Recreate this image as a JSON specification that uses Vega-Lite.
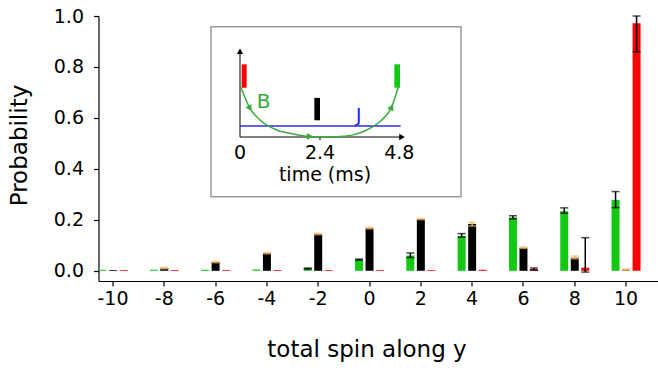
{
  "$schema": "https://vega.github.io/schema/vega-lite/v6.json",
  "width": 559.5,
  "height": 265,
  "autosize": {"type": "none"},
  "padding": {"left": 98.5, "top": 16, "right": 0, "bottom": 87},
  "background": "white",
  "config": {
    "font": "DejaVu Sans",
    "view": {"stroke": null},
    "axis": {"grid": false, "domainColor": "black", "tickColor": "black", "labelColor": "black", "titleColor": "black", "labelFontSize": 19, "titleFontSize": 23, "titleFontWeight": "normal", "tickSize": 5, "domainWidth": 1.2, "tickWidth": 1.2, "labelFont": "DejaVu Sans", "titleFont": "DejaVu Sans"},
    "axisX": {"labelAngle": 0, "labelPadding": 3},
    "axisY": {"labelPadding": 10},
    "text": {"font": "DejaVu Sans"}
  },
  "datasets": {
    "probs": [
      {"spin": -10, "series": "4.8 ms", "p": 0.004},
      {"spin": -10, "series": "2.4 ms", "p": 0.003},
      {"spin": -10, "series": "0 ms", "p": 0.003},
      {"spin": -8, "series": "4.8 ms", "p": 0.004},
      {"spin": -8, "series": "2.4 ms", "p": 0.010, "lo": 0.008, "hi": 0.013},
      {"spin": -8, "series": "0 ms", "p": 0.003},
      {"spin": -6, "series": "4.8 ms", "p": 0.004},
      {"spin": -6, "series": "2.4 ms", "p": 0.034, "lo": 0.032, "hi": 0.036},
      {"spin": -6, "series": "0 ms", "p": 0.003},
      {"spin": -4, "series": "4.8 ms", "p": 0.005},
      {"spin": -4, "series": "2.4 ms", "p": 0.069, "lo": 0.067, "hi": 0.072},
      {"spin": -4, "series": "0 ms", "p": 0.003},
      {"spin": -2, "series": "4.8 ms", "p": 0.009, "lo": 0.007, "hi": 0.011},
      {"spin": -2, "series": "2.4 ms", "p": 0.144, "lo": 0.142, "hi": 0.147},
      {"spin": -2, "series": "0 ms", "p": 0.003},
      {"spin": 0, "series": "4.8 ms", "p": 0.044, "lo": 0.042, "hi": 0.046},
      {"spin": 0, "series": "2.4 ms", "p": 0.167, "lo": 0.165, "hi": 0.171},
      {"spin": 0, "series": "0 ms", "p": 0.003},
      {"spin": 2, "series": "4.8 ms", "p": 0.060, "lo": 0.052, "hi": 0.070},
      {"spin": 2, "series": "2.4 ms", "p": 0.203, "lo": 0.201, "hi": 0.205},
      {"spin": 2, "series": "0 ms", "p": 0.003},
      {"spin": 4, "series": "4.8 ms", "p": 0.137, "lo": 0.132, "hi": 0.146},
      {"spin": 4, "series": "2.4 ms", "p": 0.184, "lo": 0.176, "hi": 0.190},
      {"spin": 4, "series": "0 ms", "p": 0.004},
      {"spin": 6, "series": "4.8 ms", "p": 0.209, "lo": 0.204, "hi": 0.216},
      {"spin": 6, "series": "2.4 ms", "p": 0.090, "lo": 0.088, "hi": 0.093},
      {"spin": 6, "series": "0 ms", "p": 0.007, "lo": 0.003, "hi": 0.011},
      {"spin": 8, "series": "4.8 ms", "p": 0.234, "lo": 0.226, "hi": 0.247},
      {"spin": 8, "series": "2.4 ms", "p": 0.051, "lo": 0.047, "hi": 0.058},
      {"spin": 8, "series": "0 ms", "p": 0.012, "lo": -0.005, "hi": 0.13},
      {"spin": 10, "series": "4.8 ms", "p": 0.278, "lo": 0.248, "hi": 0.311},
      {"spin": 10, "series": "2.4 ms", "p": 0.004, "lo": 0.002, "hi": 0.007},
      {"spin": 10, "series": "0 ms", "p": 0.972, "lo": 0.86, "hi": 1.0}
    ],
    "curve": [
      {"t": 0, "v": 0.584}, {"t": 0.3, "v": 0.322}, {"t": 0.6, "v": 0.191}, {"t": 1.1, "v": 0.079},
      {"t": 1.6, "v": 0.034}, {"t": 2.1, "v": 0.006}, {"t": 2.55, "v": 0.0}, {"t": 3.0, "v": 0.006},
      {"t": 3.45, "v": 0.03}, {"t": 3.8, "v": 0.079}, {"t": 4.25, "v": 0.191}, {"t": 4.55, "v": 0.337},
      {"t": 4.75, "v": 0.565}
    ],
    "pulses": [
      {"series": "0 ms", "t0": 0.05, "t1": 0.2, "v0": 0.554, "v1": 0.817},
      {"series": "2.4 ms", "t0": 2.23, "t1": 2.4, "v0": 0.188, "v1": 0.44},
      {"series": "4.8 ms", "t0": 4.63, "t1": 4.8, "v0": 0.554, "v1": 0.817}
    ]
  },
  "layer": [
    {
      "data": {"name": "probs"},
      "encoding": {
        "x": {"field": "spin", "type": "ordinal", "scale": {"type": "band", "paddingInner": 0.435, "paddingOuter": 0.17, "align": 0},
          "axis": {"title": "total spin along y", "titleX": 268, "titleY": 75, "titleBaseline": "alphabetic"}},
        "xOffset": {"field": "series", "type": "nominal", "scale": {"domain": ["4.8 ms", "2.4 ms", "0 ms"], "paddingInner": 0.24, "paddingOuter": 0}}
      },
      "layer": [
        {
          "mark": {"type": "bar"},
          "encoding": {
            "y": {"field": "p", "type": "quantitative", "scale": {"domain": [-0.04, 1], "nice": false, "zero": false},
              "axis": {"title": "Probability", "values": [0, 0.2, 0.4, 0.6, 0.8, 1], "format": ".1f", "titleX": -72.5, "titleY": 129, "titleBaseline": "alphabetic", "titleAlign": "center"}},
            "color": {"field": "series", "type": "nominal", "scale": {"domain": ["0 ms", "2.4 ms", "4.8 ms"], "range": ["#ff0000", "#000000", "#12c812"]}, "legend": null}
          }
        },
        {
          "transform": [{"filter": "isValid(datum.lo) && datum.series == '2.4 ms'"}],
          "mark": {"type": "rule", "color": "#f2b461", "strokeWidth": 1.5},
          "encoding": {
            "y": {"field": "lo", "type": "quantitative", "scale": {"domain": [-0.04, 1], "nice": false, "zero": false},
              "axis": {"title": "Probability", "values": [0, 0.2, 0.4, 0.6, 0.8, 1], "format": ".1f", "titleX": -72.5, "titleY": 129, "titleBaseline": "alphabetic", "titleAlign": "center"}},
            "y2": {"field": "hi"}
          }
        },
        {
          "transform": [{"filter": "isValid(datum.lo) && datum.series == '2.4 ms'"}],
          "mark": {"type": "tick", "color": "#f2b461", "thickness": 1.5, "size": 8, "orient": "horizontal"},
          "encoding": {"y": {"field": "lo", "type": "quantitative", "scale": {"domain": [-0.04, 1], "nice": false, "zero": false},
              "axis": {"title": "Probability", "values": [0, 0.2, 0.4, 0.6, 0.8, 1], "format": ".1f", "titleX": -72.5, "titleY": 129, "titleBaseline": "alphabetic", "titleAlign": "center"}}}
        },
        {
          "transform": [{"filter": "isValid(datum.lo) && datum.series == '2.4 ms'"}],
          "mark": {"type": "tick", "color": "#f2b461", "thickness": 1.5, "size": 8, "orient": "horizontal"},
          "encoding": {"y": {"field": "hi", "type": "quantitative", "scale": {"domain": [-0.04, 1], "nice": false, "zero": false},
              "axis": {"title": "Probability", "values": [0, 0.2, 0.4, 0.6, 0.8, 1], "format": ".1f", "titleX": -72.5, "titleY": 129, "titleBaseline": "alphabetic", "titleAlign": "center"}}}
        },
        {
          "transform": [{"filter": "isValid(datum.lo) && datum.series != '2.4 ms'"}],
          "mark": {"type": "rule", "color": "black", "strokeWidth": 1.5},
          "encoding": {
            "y": {"field": "lo", "type": "quantitative", "scale": {"domain": [-0.04, 1], "nice": false, "zero": false},
              "axis": {"title": "Probability", "values": [0, 0.2, 0.4, 0.6, 0.8, 1], "format": ".1f", "titleX": -72.5, "titleY": 129, "titleBaseline": "alphabetic", "titleAlign": "center"}},
            "y2": {"field": "hi"}
          }
        },
        {
          "transform": [{"filter": "isValid(datum.lo) && datum.series != '2.4 ms'"}],
          "mark": {"type": "tick", "color": "black", "thickness": 1.5, "size": 8, "orient": "horizontal"},
          "encoding": {"y": {"field": "lo", "type": "quantitative", "scale": {"domain": [-0.04, 1], "nice": false, "zero": false},
              "axis": {"title": "Probability", "values": [0, 0.2, 0.4, 0.6, 0.8, 1], "format": ".1f", "titleX": -72.5, "titleY": 129, "titleBaseline": "alphabetic", "titleAlign": "center"}}}
        },
        {
          "transform": [{"filter": "isValid(datum.lo) && datum.series != '2.4 ms'"}],
          "mark": {"type": "tick", "color": "black", "thickness": 1.5, "size": 8, "orient": "horizontal"},
          "encoding": {"y": {"field": "hi", "type": "quantitative", "scale": {"domain": [-0.04, 1], "nice": false, "zero": false},
              "axis": {"title": "Probability", "values": [0, 0.2, 0.4, 0.6, 0.8, 1], "format": ".1f", "titleX": -72.5, "titleY": 129, "titleBaseline": "alphabetic", "titleAlign": "center"}}}
        }
      ]
    },
    {
      "layer": [
        {
          "data": {"values": [{"t0": -0.87, "t1": 6.63, "v0": -0.671, "v1": 1.239}]},
          "mark": {"type": "rect", "fill": "white", "stroke": "#999999", "strokeWidth": 1.5},
          "encoding": {
            "x": {"field": "t0", "type": "quantitative", "scale": {"domain": [-4.245, 12.54], "nice": false, "zero": false}, "axis": null},
            "x2": {"field": "t1"},
            "y": {"field": "v0", "type": "quantitative", "scale": {"domain": [-1.618, 1.36], "nice": false, "zero": false}, "axis": null},
            "y2": {"field": "v1"}
          }
        },
        {
          "data": {"values": [{"t0": 0, "t1": 0, "v0": 0, "v1": 0.96}, {"t0": 0, "t1": 4.84, "v0": 0, "v1": 0}, {"t0": 2.4, "t1": 2.4, "v0": 0, "v1": -0.035}]},
          "mark": {"type": "rule", "color": "black", "strokeWidth": 1},
          "encoding": {
            "x": {"field": "t0", "type": "quantitative", "scale": {"domain": [-4.245, 12.54], "nice": false, "zero": false}, "axis": null},
            "x2": {"field": "t1"},
            "y": {"field": "v0", "type": "quantitative", "scale": {"domain": [-1.618, 1.36], "nice": false, "zero": false}, "axis": null},
            "y2": {"field": "v1"}
          }
        },
        {
          "data": {"values": [{"t": 0, "v": 0.965, "dir": "up"}, {"t": 4.86, "v": 0, "dir": "right"}]},
          "mark": {"type": "point", "filled": true, "color": "black", "opacity": 1, "size": 40},
          "encoding": {
            "x": {"field": "t", "type": "quantitative", "scale": {"domain": [-4.245, 12.54], "nice": false, "zero": false}, "axis": null},
            "y": {"field": "v", "type": "quantitative", "scale": {"domain": [-1.618, 1.36], "nice": false, "zero": false}, "axis": null},
            "shape": {"field": "dir", "type": "nominal", "scale": {"domain": ["up", "right"], "range": ["triangle-up", "triangle-right"]}, "legend": null}
          }
        },
        {
          "data": {"values": [{"t0": 0, "t1": 4.82, "v": 0.124}]},
          "mark": {"type": "rule", "color": "#2a2ae6", "strokeWidth": 1.5},
          "encoding": {
            "x": {"field": "t0", "type": "quantitative", "scale": {"domain": [-4.245, 12.54], "nice": false, "zero": false}, "axis": null},
            "x2": {"field": "t1"},
            "y": {"field": "v", "type": "quantitative", "scale": {"domain": [-1.618, 1.36], "nice": false, "zero": false}, "axis": null}
          }
        },
        {
          "data": {"name": "curve"},
          "mark": {"type": "line", "color": "#3aaa3a", "strokeWidth": 1.5, "interpolate": "monotone"},
          "encoding": {
            "x": {"field": "t", "type": "quantitative", "scale": {"domain": [-4.245, 12.54], "nice": false, "zero": false}, "axis": null},
            "y": {"field": "v", "type": "quantitative", "scale": {"domain": [-1.618, 1.36], "nice": false, "zero": false}, "axis": null}
          }
        },
        {
          "data": {"values": [{"t": 0.3, "v": 0.322}]},
          "mark": {"type": "point", "shape": "triangle-up", "filled": true, "color": "#3aaa3a", "opacity": 1, "size": 50, "angle": 150},
          "encoding": {
            "x": {"field": "t", "type": "quantitative", "scale": {"domain": [-4.245, 12.54], "nice": false, "zero": false}, "axis": null},
            "y": {"field": "v", "type": "quantitative", "scale": {"domain": [-1.618, 1.36], "nice": false, "zero": false}, "axis": null}
          }
        },
        {
          "data": {"values": [{"t": 2.1, "v": 0.006}]},
          "mark": {"type": "point", "shape": "triangle-up", "filled": true, "color": "#3aaa3a", "opacity": 1, "size": 50, "angle": 90},
          "encoding": {
            "x": {"field": "t", "type": "quantitative", "scale": {"domain": [-4.245, 12.54], "nice": false, "zero": false}, "axis": null},
            "y": {"field": "v", "type": "quantitative", "scale": {"domain": [-1.618, 1.36], "nice": false, "zero": false}, "axis": null}
          }
        },
        {
          "data": {"values": [{"t": 4.55, "v": 0.337}]},
          "mark": {"type": "point", "shape": "triangle-up", "filled": true, "color": "#3aaa3a", "opacity": 1, "size": 50, "angle": 27},
          "encoding": {
            "x": {"field": "t", "type": "quantitative", "scale": {"domain": [-4.245, 12.54], "nice": false, "zero": false}, "axis": null},
            "y": {"field": "v", "type": "quantitative", "scale": {"domain": [-1.618, 1.36], "nice": false, "zero": false}, "axis": null}
          }
        },
        {
          "data": {"name": "pulses"},
          "mark": {"type": "rect"},
          "encoding": {
            "x": {"field": "t0", "type": "quantitative", "scale": {"domain": [-4.245, 12.54], "nice": false, "zero": false}, "axis": null},
            "x2": {"field": "t1"},
            "y": {"field": "v0", "type": "quantitative", "scale": {"domain": [-1.618, 1.36], "nice": false, "zero": false}, "axis": null},
            "y2": {"field": "v1"},
            "color": {"field": "series", "type": "nominal", "scale": {"domain": ["0 ms", "2.4 ms", "4.8 ms"], "range": ["#ff0000", "#000000", "#12c812"]}, "legend": null}
          }
        },
        {
          "data": {"values": [{"t": 0, "v": -0.25, "label": "0"}, {"t": 2.4, "v": -0.25, "label": "2.4"}, {"t": 4.78, "v": -0.25, "label": "4.8"}, {"t": 2.55, "v": -0.491, "label": "time (ms)"}]},
          "mark": {"type": "text", "fontSize": 19, "color": "black", "align": "center", "baseline": "alphabetic"},
          "encoding": {
            "x": {"field": "t", "type": "quantitative", "scale": {"domain": [-4.245, 12.54], "nice": false, "zero": false}, "axis": null},
            "y": {"field": "v", "type": "quantitative", "scale": {"domain": [-1.618, 1.36], "nice": false, "zero": false}, "axis": null},
            "text": {"field": "label"}
          }
        },
        {
          "data": {"values": [{"t": 0.71, "v": 0.322, "label": "B"}]},
          "mark": {"type": "text", "fontSize": 20, "color": "#33aa33", "align": "center", "baseline": "alphabetic"},
          "encoding": {
            "x": {"field": "t", "type": "quantitative", "scale": {"domain": [-4.245, 12.54], "nice": false, "zero": false}, "axis": null},
            "y": {"field": "v", "type": "quantitative", "scale": {"domain": [-1.618, 1.36], "nice": false, "zero": false}, "axis": null},
            "text": {"field": "label"}
          }
        },
        {
          "data": {"values": [{"t": 3.56, "v": 0.172, "label": "J"}]},
          "mark": {"type": "text", "fontSize": 20, "color": "#2a2ae6", "align": "center", "baseline": "alphabetic"},
          "encoding": {
            "x": {"field": "t", "type": "quantitative", "scale": {"domain": [-4.245, 12.54], "nice": false, "zero": false}, "axis": null},
            "y": {"field": "v", "type": "quantitative", "scale": {"domain": [-1.618, 1.36], "nice": false, "zero": false}, "axis": null},
            "text": {"field": "label"}
          }
        }
      ]
    }
  ],
  "resolve": {"scale": {"x": "independent", "y": "independent"}}
}
